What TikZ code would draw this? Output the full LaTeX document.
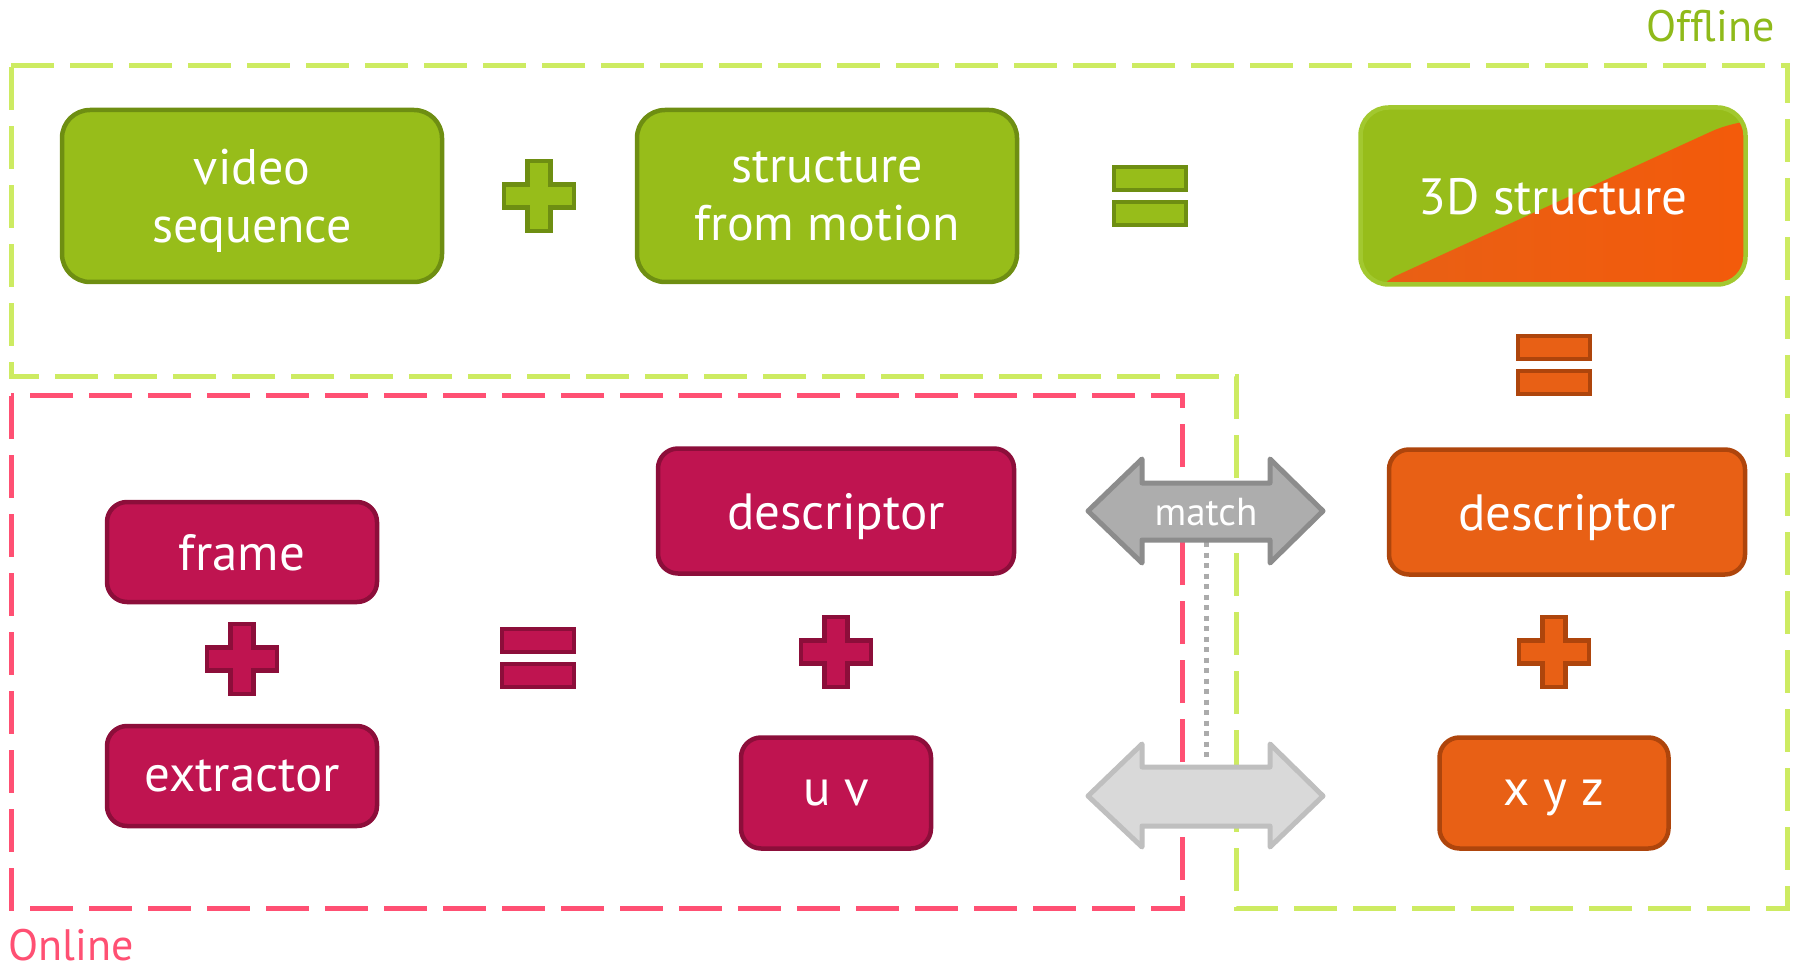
\documentclass[tikz,border=0pt]{standalone}
\usepackage{fontspec}
\setmainfont{PT Sans}
\usetikzlibrary{calc}
\definecolor{grfill}{HTML}{97BD1A}
\definecolor{grline}{HTML}{6E8E12}
\definecolor{grlight}{HTML}{A2C82F}
\definecolor{offdash}{HTML}{CDEB62}
\definecolor{offtext}{HTML}{8FBA1A}
\definecolor{ondash}{HTML}{FF5073}
\definecolor{crfill}{HTML}{BF1450}
\definecolor{crline}{HTML}{8C0E3A}
\definecolor{orfill}{HTML}{E86015}
\definecolor{orline}{HTML}{AE450C}
\definecolor{orbright}{HTML}{F45A0A}
\definecolor{mfill}{HTML}{ADADAD}
\definecolor{mline}{HTML}{8C8C8C}
\definecolor{lfill}{HTML}{D9D9D9}
\definecolor{lline}{HTML}{BFBFBF}
\definecolor{dotcol}{HTML}{ABABAB}
\begin{document}
\begin{tikzpicture}[x=1pt,y=-1pt,
  box/.style={rectangle, rounded corners=20pt, line width=4.5pt, text=white,
    align=center, inner sep=0pt, text depth=0pt, font=\fontsize{51}{58}\selectfont},
  bigbox/.style={box, rounded corners=28pt, minimum width=380pt, minimum height=172pt,
    font=\fontsize{50}{58}\selectfont},
  midbox/.style={box, minimum width=356pt, minimum height=125pt},
  smallbox/.style={box, minimum width=270pt, minimum height=100pt},
  tinybox/.style={box, minimum width=190pt, minimum height=111pt},
  greenbox/.style={fill=grfill, draw=grline},
  crimsonbox/.style={fill=crfill, draw=crline},
  orangebox/.style={fill=orfill, draw=orline},
  zone/.style={line width=5pt, dash pattern=on 43pt off 16pt},
  zonelabel/.style={inner sep=0pt, font=\fontsize{44}{50}\selectfont},
  bigarrow/.style={line width=5pt, line join=round},
  sign/.style={line width=4.5pt},
  plussign/.pic={\path[pic actions] (-11.5,-35) -- (11.5,-35) -- (11.5,-11.5) -- (35,-11.5)
      -- (35,11.5) -- (11.5,11.5) -- (11.5,35) -- (-11.5,35) -- (-11.5,11.5) -- (-35,11.5)
      -- (-35,-11.5) -- (-11.5,-11.5) -- cycle;},
  eqsign/.pic={\path[pic actions] (-36,-29) rectangle (36,-6);
      \path[pic actions] (-36,6) rectangle (36,29);},
]
\useasboundingbox (0,0) rectangle (1810,973);

% zones
\draw[zone, draw=offdash] (11,66) -- (1787,66) -- (1787,908) -- (1236,908) -- (1236,377)
  -- (11,377) -- cycle;
\draw[zone, draw=ondash] (11,396) rectangle (1182,908);
\node[zonelabel, anchor=east, text=offtext] (offline) at (1775,26) {Offline};
\node[zonelabel, anchor=west, text=ondash] (online) at (8,945) {Online};

% offline pipeline
\node[bigbox, greenbox] (video) at (252,196) {video\\sequence};
\pic[sign, fill=grfill, draw=grline] at (539,196) {plussign};
\node[bigbox, greenbox] (sfm) at (827,196) {structure\\from motion};
\pic[sign, fill=grfill, draw=grline] at (1150,196) {eqsign};
\node[bigbox, fill=grfill, draw=grlight, minimum width=385pt, minimum height=177pt,
  font=\fontsize{51}{58}\selectfont,
  path picture={
    \shade[left color=orfill, right color=orbright]
      ([xshift=10pt,yshift=-3pt]path picture bounding box.south west)
      -- ([xshift=-8pt,yshift=-12pt]path picture bounding box.north east)
      -- ([xshift=30pt,yshift=-12pt]path picture bounding box.north east)
      -- ([xshift=30pt,yshift=-30pt]path picture bounding box.south east)
      -- ([xshift=10pt,yshift=-30pt]path picture bounding box.south west) -- cycle;
  }] (struct) at (1553,196) {3D structure};
\pic[sign, fill=orfill, draw=orline] at (1554,365) {eqsign};
\node[midbox, orangebox] (odesc) at (1567,512) {descriptor};
\pic[sign, fill=orfill, draw=orline] at (1554,652) {plussign};
\node[tinybox, orangebox, minimum width=229pt] (xyz) at (1554,793) {x y z};

% online pipeline
\node[smallbox, crimsonbox] (frame) at (242,552) {frame};
\pic[sign, fill=crfill, draw=crline] at (242,659) {plussign};
\node[smallbox, crimsonbox] (extractor) at (242,776) {extractor};
\pic[sign, fill=crfill, draw=crline] at (538,658) {eqsign};
\node[midbox, crimsonbox] (cdesc) at (836,511) {descriptor};
\pic[sign, fill=crfill, draw=crline] at (836,652) {plussign};
\node[tinybox, crimsonbox] (uv) at (836,793) {u v};

% matching arrows
\coordinate (dtop) at (1206,542);
\coordinate (dbot) at (1206,757);
\draw[dotcol, line width=5pt, dash pattern=on 5pt off 5.5pt] (dtop) -- (dbot);
\draw[bigarrow, fill=mfill, draw=mline] (1088,511) -- (1142,459) -- (1142,483) -- (1270,483)
  -- (1270,459) -- (1323,511) -- (1270,563) -- (1270,540) -- (1142,540) -- (1142,563) -- cycle;
\node[text=white, font=\fontsize{39}{44}\selectfont] (match) at (1206,512) {match};
\draw[bigarrow, fill=lfill, draw=lline] (1088,796) -- (1142,744) -- (1142,767) -- (1270,767)
  -- (1270,744) -- (1323,796) -- (1270,847) -- (1270,826) -- (1142,826) -- (1142,847) -- cycle;
\end{tikzpicture}
\end{document}
